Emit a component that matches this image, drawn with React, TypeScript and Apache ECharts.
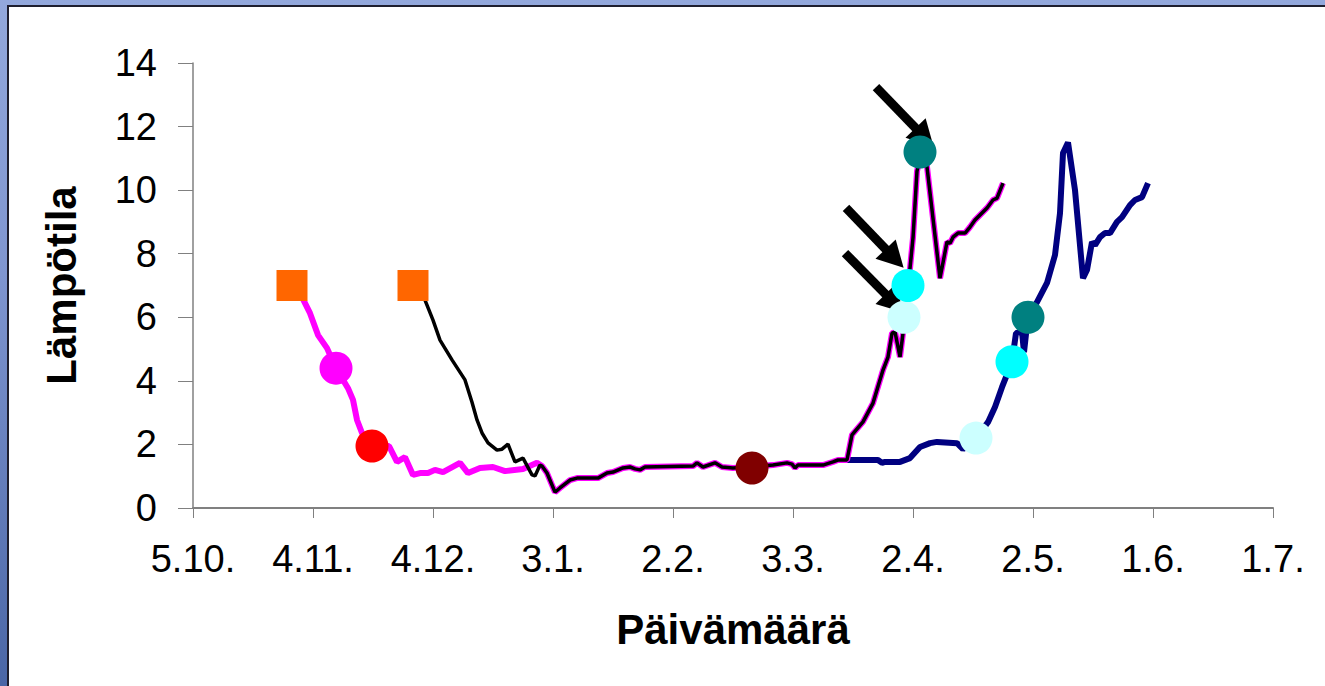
import React, { useEffect, useRef } from "react";
import * as echarts from "echarts";

// x values are days counted from 5.10.; ticks every 30 days
const xTickLabels = ["5.10.", "4.11.", "4.12.", "3.1.", "2.2.", "3.3.", "2.4.", "2.5.", "1.6.", "1.7."];

// magenta series, before it joins the common path
const magentaHeadDays = [24.75, 27.5, 29.25, 31.25, 33.5, 35.75, 38.75, 40, 41, 42.25, 44.75, 49, 51, 53, 55, 56.75, 58.75, 60.5, 62.5, 66.75, 68.75, 71.75, 75, 78, 82.5, 86, 87.25];
const magentaHeadTemps = [7.0, 6.57, 6.13, 5.44, 5.03, 4.4, 3.77, 3.4, 2.77, 2.36, 1.95, 1.95, 1.45, 1.6, 1.04, 1.1, 1.1, 1.2, 1.13, 1.42, 1.1, 1.26, 1.29, 1.16, 1.23, 1.42, 1.32];

// black series, before it joins the common path
const blackHeadDays = [55, 58, 60, 61.75, 64.75, 68, 69.75, 71, 72.25, 73.75, 76, 77.25, 78.75, 80.5, 82.5, 84.75, 85.5, 86.75, 87.25];
const blackHeadTemps = [7.0, 6.54, 5.91, 5.28, 4.66, 4.03, 3.33, 2.77, 2.36, 2.05, 1.82, 1.85, 2.01, 1.45, 1.57, 1.04, 1.01, 1.35, 1.32];

// common path of magenta and black series
const sharedDays = [88.5, 90.5, 91.75, 94.25, 96, 101.25, 103.5, 105, 107.5, 109.25, 110.5, 111.75, 113, 125, 126, 127.5, 130.5, 132.25, 135, 145, 148.5, 149.75, 150.5, 151.25, 157.5, 160, 161.25, 163.5, 164.75, 167.5, 170, 172.5, 173.75, 174.75, 175.5, 176.75, 177.5, 178.75, 180, 181, 182.5, 183.5, 186.75, 188.5, 189.25, 190, 191.25, 193, 194.25, 195.5, 198.5, 200, 201, 202.5];
const sharedTemps = [1.1, 0.5, 0.63, 0.88, 0.94, 0.94, 1.1, 1.13, 1.26, 1.29, 1.23, 1.2, 1.29, 1.32, 1.42, 1.29, 1.42, 1.29, 1.26, 1.35, 1.42, 1.38, 1.26, 1.35, 1.35, 1.45, 1.51, 1.51, 2.3, 2.71, 3.3, 4.34, 4.75, 5.5, 5.54, 4.75, 5.5, 6.9, 8.5, 10.6, 11.4, 10.73, 7.23, 8.37, 8.33, 8.52, 8.65, 8.65, 8.84, 9.06, 9.44, 9.69, 9.75, 10.22];

// navy series
const navyDays = [163.5, 171.25, 172.25, 173, 176.75, 179.25, 181.75, 184.25, 186, 191, 192.5, 195.75, 198.75, 200.5, 202.25, 204.75, 205.75, 207.25, 207.75, 208.75, 211, 213.5, 215.5, 216.75, 217.5, 218.75, 220.5, 222.5, 223.5, 224.75, 225.5, 226.75, 228, 229.25, 231, 232.25, 234.25, 235.5, 237.25, 238.75];
const navyTemps = [1.51, 1.51, 1.42, 1.45, 1.45, 1.57, 1.92, 2.04, 2.08, 2.04, 1.85, 2.2, 2.7, 3.18, 3.8, 4.6, 5.5, 5.55, 4.9, 6.04, 6.48, 7.08, 7.96, 9.28, 11.17, 11.5, 10.0, 7.23, 7.49, 8.37, 8.27, 8.52, 8.65, 8.65, 9.0, 9.15, 9.53, 9.69, 9.78, 10.22];

// marked points [day, temperature]
const startPoints = [[24.75, 7.0], [55, 7.0]];
const magentaPoint = [[35.75, 4.4]];
const redPoint = [[44.75, 1.95]];
const maroonPoint = [[139.75, 1.26]];
const lightCyanPoints = [[177.75, 6.0], [195.75, 2.2]];
const cyanPoints = [[178.75, 7.0], [204.75, 4.6]];
const tealPoints = [[181.75, 11.2], [208.75, 6.0]];

// arrows [day, temperature]: tail -> head
const arrowTails = [[170.75, 13.24], [163.25, 9.44], [163, 8.02]];
const arrowHeads = [[182.9, 11.66], [175.4, 7.85], [175.4, 6.44]];

const zip = (a: number[], b: number[]) => a.map((v, i) => [v, b[i]]);

const FONT = "'Liberation Sans', Arial, Helvetica, sans-serif";

export default function App() {
  const ref = useRef<HTMLDivElement>(null);
  useEffect(() => {
    if (!ref.current) return;
    const chart = echarts.init(ref.current, null, { renderer: "svg" });
    const dot = (data: number[][], color: string, z: number, symbol = "circle", size = 33) => ({
      type: "scatter",
      data,
      symbol,
      symbolSize: size,
      itemStyle: { color, opacity: 1 },
      z,
      silent: true,
    });
    chart.setOption({
      animation: false,
      grid: { left: 193, top: 63, width: 1080, height: 445, containLabel: false },
      xAxis: {
        type: "value",
        min: 0,
        max: 270,
        interval: 30,
        name: "Päivämäärä",
        nameLocation: "middle",
        nameGap: 100,
        nameTextStyle: { fontSize: 42, fontWeight: "bold", color: "#000", fontFamily: FONT },
        axisLine: { show: true, onZero: false, lineStyle: { color: "#808080", width: 2 } },
        axisTick: { show: true, length: 10, lineStyle: { color: "#808080", width: 1 } },
        axisLabel: {
          margin: 32,
          fontSize: 38,
          color: "#000",
          fontFamily: FONT,
          formatter: (v: number) => xTickLabels[Math.round(v / 30)] ?? "",
        },
        splitLine: { show: false },
      },
      yAxis: {
        type: "value",
        min: 0,
        max: 14,
        interval: 2,
        name: "Lämpötila",
        nameLocation: "middle",
        nameRotate: 90,
        nameGap: 111,
        nameTextStyle: { fontSize: 42, fontWeight: "bold", color: "#000", fontFamily: FONT },
        axisLine: { show: true, lineStyle: { color: "#808080", width: 1.5 } },
        axisTick: { show: true, length: 15, lineStyle: { color: "#808080", width: 1 } },
        axisLabel: { margin: 36, fontSize: 38, color: "#000", fontFamily: FONT },
        splitLine: { show: false },
      },
      series: [
        {
          type: "line",
          data: zip(navyDays, navyTemps),
          showSymbol: false,
          lineStyle: { color: "#000080", width: 6 },
          z: 2,
          silent: true,
        },
        {
          type: "line",
          data: zip(magentaHeadDays.concat(sharedDays), magentaHeadTemps.concat(sharedTemps)),
          showSymbol: false,
          lineStyle: { color: "#FF00FF", width: 6 },
          z: 3,
          silent: true,
        },
        {
          type: "line",
          data: zip(blackHeadDays.concat(sharedDays), blackHeadTemps.concat(sharedTemps)),
          showSymbol: false,
          lineStyle: { color: "#000000", width: 3.5 },
          z: 4,
          silent: true,
        },
        dot(startPoints, "#FF6600", 5, "rect", 31),
        dot(magentaPoint, "#FF00FF", 6),
        dot(redPoint, "#FF0000", 6),
        dot(maroonPoint, "#800000", 6),
        dot(lightCyanPoints, "#CCFFFF", 7),
        dot(cyanPoints, "#00FFFF", 8),
        dot(tealPoints, "#008080", 9),
        {
          type: "line",
          data: [],
          z: 20,
          silent: true,
          markLine: {
            silent: true,
            animation: false,
            symbol: ["none", "triangle"],
            symbolSize: [28, 26],
            label: { show: false },
            emphasis: { disabled: true },
            lineStyle: { color: "#000", width: 9, type: "solid", opacity: 1 },
            itemStyle: { color: "#000" },
            data: arrowTails.map((t, i) => [{ coord: t }, { coord: arrowHeads[i] }]),
          },
        },
      ],
    });
    return () => chart.dispose();
  }, []);

  return (
    <div
      style={{
        position: "fixed",
        left: 0,
        top: 0,
        width: 1325,
        height: 686,
        overflow: "hidden",
        background: "linear-gradient(180deg, #93A8DC 0%, #7F95D0 40%, #4A66A6 100%)",
      }}
    >
      <div
        style={{
          position: "absolute",
          left: 7,
          top: 5,
          width: 1340,
          height: 700,
          background: "#fff",
          border: "2px solid #1E1E2E",
          boxSizing: "border-box",
        }}
      />
      <div ref={ref} style={{ position: "absolute", left: 0, top: 0, width: 1325, height: 686 }} />
    </div>
  );
}
